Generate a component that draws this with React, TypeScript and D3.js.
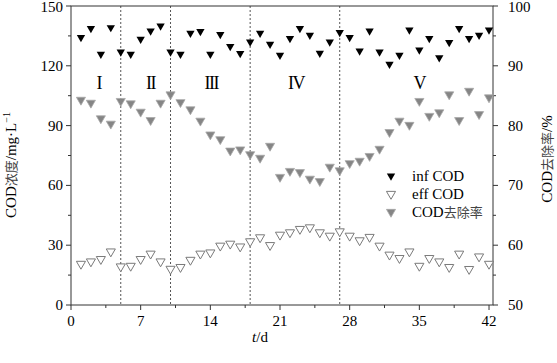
import * as d3 from 'd3';

// days 1..42
const days = d3.range(1, 43);

const infCod = [
  134.2, 138.7, 125.8, 139.2, 127, 125.8, 133.4, 137.5, 140, 127,
  125.8, 136.4, 137.2, 125.8, 135.7, 129.7, 126.2, 132, 136.4, 130.8,
  125.3, 133.7, 138.7, 135.4, 126.3, 132, 136.7, 134.2, 127.5, 137.5,
  127, 120.8, 125.3, 138, 128, 133.7, 124.1, 131.7, 138.7, 133.7,
  135.4, 138,
];

const effCod = [
  20.6, 21.8, 23, 26.8, 19.3, 19.6, 23, 25.7, 21.8, 18.1,
  19, 22.6, 25.7, 26.3, 29.7, 30.7, 29.3, 31.9, 33.9, 30,
  35.2, 36.4, 38.1, 38.9, 36.4, 34.7, 36.9, 34.7, 32.4, 34.1,
  29.7, 25.2, 23.5, 26.8, 19.6, 23.5, 21.8, 19, 25.7, 18,
  24.3, 20.6,
];

const removal = [
  84.3, 83.8, 81.2, 80.3, 84.1, 83.7, 82.3, 80.9, 83.8, 85.2,
  83.9, 82.7, 80.8, 78.5, 77.7, 75.8, 76, 75.2, 74.6, 76.6,
  71.4, 72.4, 72.2, 71.1, 70.7, 73.1, 72.5, 73.7, 74.1, 74.9,
  76.1, 78.9, 80.8, 80.1, 84.1, 81.6, 82.2, 85.2, 80.9, 85.8,
  81.9, 84.7,
];

const stageBreaks = [5, 10, 18, 27];
const stageLabels = ['I', 'II', 'III', 'IV', 'V'];
const stageCenters = [2.8, 8, 14.1, 22.6, 35];
const xTicks = [0, 7, 14, 21, 28, 35, 42];
const leftTicks = [0, 30, 60, 90, 120, 150];
const rightTicks = [50, 60, 70, 80, 90, 100];

const serif = '"Liberation Serif", "Times New Roman", serif';
const cjk = '"Noto Sans CJK SC", sans-serif';
const axisColor = '#333';

export default function App() {
  const x = d3.scaleLinear().domain([0, 42.4]).range([71, 493]);
  const yL = d3.scaleLinear().domain([0, 150]).range([305, 6]);
  const yR = d3.scaleLinear().domain([50, 100]).range([305, 6]);
  const [top, bottom] = [yL.range()[1], yL.range()[0]];
  const [left, right] = x.range();

  const tri = d3.symbol().type(d3.symbolTriangle).size(30)() as string;
  const triBig = d3.symbol().type(d3.symbolTriangle).size(36)() as string;

  const xMinor = d3.range(3.5, 42, 7);
  const lMinor = d3.range(15, 150, 30);
  const rMinor = d3.range(55, 100, 10);

  return (
    <div style={{ position: 'absolute', left: 0, top: 0 }}>
      <svg width={557} height={363} style={{ display: 'block', background: '#fff' }}>
        {/* stage separators */}
        {stageBreaks.map((d) => (
          <line key={d} x1={x(d)} x2={x(d)} y1={top} y2={bottom}
            stroke="#555" strokeWidth={1} strokeDasharray="2,2" />
        ))}

        {/* frame */}
        <rect x={left} y={top} width={right - left} height={bottom - top}
          fill="none" stroke={axisColor} strokeWidth={1} />

        {/* bottom axis */}
        {xTicks.map((t) => (
          <g key={t}>
            <line x1={x(t)} x2={x(t)} y1={bottom} y2={bottom + 5} stroke={axisColor} />
            <text x={x(t)} y={326} textAnchor="middle" fontFamily={serif} fontSize={15}>{t}</text>
          </g>
        ))}
        {xMinor.map((t) => (
          <line key={t} x1={x(t)} x2={x(t)} y1={bottom} y2={bottom + 3} stroke={axisColor} />
        ))}

        {/* left axis */}
        {leftTicks.map((t) => (
          <g key={t}>
            <line x1={left - 5} x2={left} y1={yL(t)} y2={yL(t)} stroke={axisColor} />
            <text x={63} y={Math.max(yL(t) + 5, 12)} textAnchor="end" fontFamily={serif} fontSize={15}>{t}</text>
          </g>
        ))}
        {lMinor.map((t) => (
          <line key={t} x1={left - 3} x2={left} y1={yL(t)} y2={yL(t)} stroke={axisColor} />
        ))}

        {/* right axis */}
        {rightTicks.map((t) => (
          <g key={t}>
            <line x1={right} x2={right + 5} y1={yR(t)} y2={yR(t)} stroke={axisColor} />
            <text x={508} y={Math.max(yR(t) + 5, 12)} textAnchor="start" fontFamily={serif} fontSize={15}>{t}</text>
          </g>
        ))}
        {rMinor.map((t) => (
          <line key={t} x1={right} x2={right + 3} y1={yR(t)} y2={yR(t)} stroke={axisColor} />
        ))}

        {/* stage labels */}
        {stageLabels.map((s, i) => (
          <text key={s} x={x(stageCenters[i])} y={89} textAnchor="middle"
            fontFamily={serif} fontSize={18} letterSpacing={-1.5}>{s}</text>
        ))}

        {/* series */}
        {days.map((d, i) => (
          <path key={'r' + d} d={triBig}
            transform={`translate(${x(d)},${yR(removal[i])}) rotate(180)`}
            fill="#858585" stroke="#a8a8a8" strokeWidth={0.8} />
        ))}
        {days.map((d, i) => (
          <path key={'e' + d} d={triBig}
            transform={`translate(${x(d)},${yL(effCod[i])}) rotate(180)`}
            fill="#fff" stroke="#7a7a7a" strokeWidth={1} />
        ))}
        {days.map((d, i) => (
          <path key={'i' + d} d={tri}
            transform={`translate(${x(d)},${yL(infCod[i])}) rotate(180)`}
            fill="#000" />
        ))}

        {/* legend */}
        <path d={tri} transform="translate(391,176) rotate(180)" fill="#000" />
        <text x={412} y={181} fontFamily={serif} fontSize={15}>inf COD</text>
        <path d={triBig} transform="translate(391,194) rotate(180)" fill="#fff" stroke="#7a7a7a" />
        <text x={412} y={199} fontFamily={serif} fontSize={15}>eff COD</text>
        <path d={triBig} transform="translate(391,212) rotate(180)" fill="#858585" stroke="#a8a8a8" strokeWidth={0.8} />
        <text x={412} y={217} fontFamily={serif} fontSize={15}>
          COD<tspan fontFamily={cjk} fontSize={13} fill="#444">去除率</tspan>
        </text>

        {/* axis titles */}
        <text transform="translate(16,165) rotate(-90)" textAnchor="middle" fontFamily={serif} fontSize={15}>
          COD<tspan fontFamily={cjk} fontSize={13} fill="#444">浓度</tspan>/mg·L<tspan fontSize={10} dy={-6}>−1</tspan>
        </text>
        <text transform="translate(552,159) rotate(-90)" textAnchor="middle" fontFamily={serif} fontSize={15}>
          COD<tspan fontFamily={cjk} fontSize={13} fill="#444">去除率</tspan>/%
        </text>
        <text x={260} y={342} textAnchor="middle" fontFamily={serif} fontSize={15}>
          <tspan fontStyle="italic">t</tspan>/d
        </text>
      </svg>
    </div>
  );
}
